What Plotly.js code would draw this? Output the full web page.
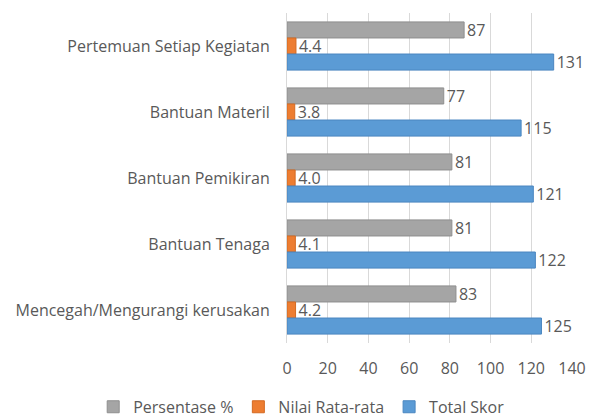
<!DOCTYPE html>
<html>
<head>
<meta charset="utf-8">
<script src="https://cdn.plot.ly/plotly-3.0.1.min.js"></script>
<style>html,body{margin:0;padding:0;background:#fff;}#chart{width:594px;height:417px;}</style>
</head>
<body>
<div id="chart"></div>
<script>
const categories = ["Pertemuan Setiap Kegiatan", "Bantuan Materil", "Bantuan Pemikiran", "Bantuan Tenaga", "Mencegah/Mengurangi kerusakan"];
const persentase = [87, 77, 81, 81, 83];
const nilaiRataRata = [4.4, 3.8, 4.0, 4.1, 4.2];
const totalSkor = [131, 115, 121, 122, 125];
const persentaseLabels = ["87", "77", "81", "81", "83"];
const nilaiLabels = ["4.4", "3.8", "4.0", "4.1", "4.2"];
const totalLabels = ["131", "115", "121", "122", "125"];
const xTicks = [0, 20, 40, 60, 80, 100, 120, 140];

const FONT = "'Open Sans', sans-serif";
const TXT = "#595959";

function barTrace(name, values, labels, color, lineColor) {
  return {
    type: "bar", orientation: "h", name: name,
    x: values, y: categories,
    text: labels, textposition: "outside", constraintext: "none", cliponaxis: false,
    textfont: {family: FONT, size: 16, color: TXT},
    marker: {color: color, line: {color: lineColor, width: 1}},
    hoverinfo: "x+y"
  };
}

const data = [
  barTrace("Persentase %", persentase, persentaseLabels, "#a5a5a5", "#8f8f8f"),
  barTrace("Nilai Rata-rata", nilaiRataRata, nilaiLabels, "#ed7d31", "#d46a22"),
  barTrace("Total Skor", totalSkor, totalLabels, "#5b9bd5", "#4a86c0")
];

const layout = {
  width: 594, height: 417,
  margin: {l: 287, r: 22, t: 13, b: 74, autoexpand: false},
  paper_bgcolor: "#ffffff", plot_bgcolor: "#ffffff",
  barmode: "group", bargap: 0.27, bargroupgap: 0,
  font: {family: FONT, color: TXT, size: 16},
  showlegend: true,
  legend: {orientation: "h", x: -0.68, xanchor: "left", y: -0.142, yanchor: "top",
           font: {family: FONT, size: 16, color: TXT}, itemwidth: 30, tracegroupgap: 0},
  xaxis: {range: [0, 140], tickvals: xTicks, ticktext: xTicks.map(String),
          showgrid: true, gridcolor: "#d9d9d9", gridwidth: 1, zeroline: false,
          showline: false, ticks: "", ticklabelstandoff: 14,
          tickfont: {family: FONT, size: 16, color: TXT}, fixedrange: true},
  yaxis: {type: "category", autorange: "reversed", showgrid: false, zeroline: false,
          showline: true, linecolor: "#d9d9d9", linewidth: 1, ticks: "",
          ticklabelstandoff: 13,
          tickfont: {family: FONT, size: 16, color: TXT}, fixedrange: true}
};

Plotly.newPlot("chart", data, layout, {displayModeBar: false, staticPlot: true});
</script>
</body>
</html>
